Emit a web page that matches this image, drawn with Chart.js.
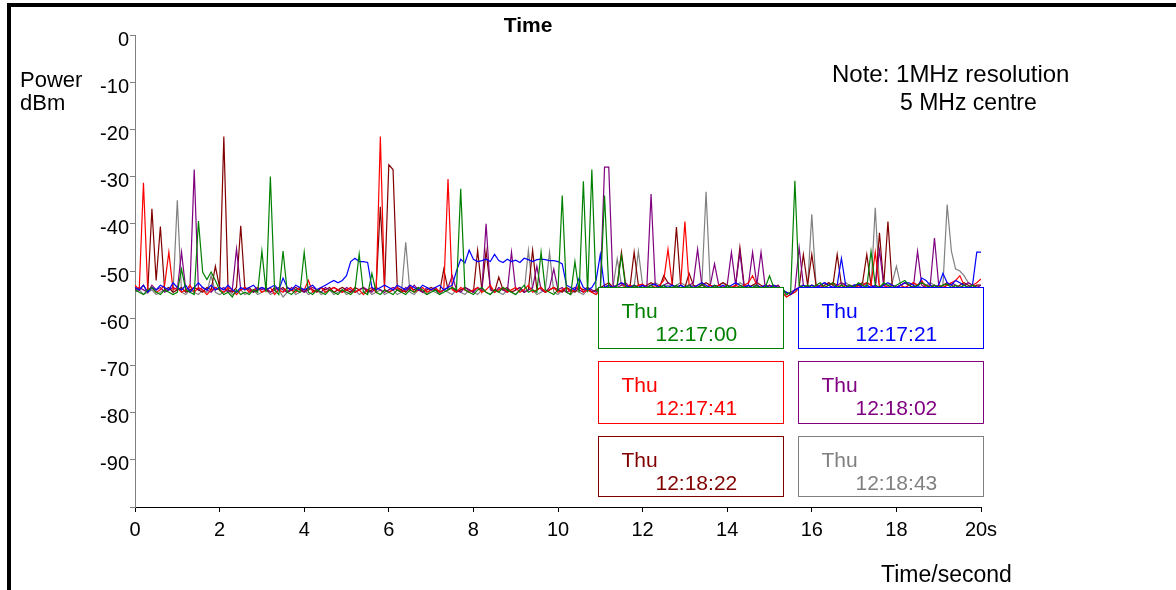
<!DOCTYPE html>
<html>
<head>
<meta charset="utf-8">
<script src="https://cdn.jsdelivr.net/npm/chart.js@4/dist/chart.umd.min.js"></script>
<style>
  body { margin: 0; background: #fff; }
  canvas { display: block; }
</style>
</head>
<body>
<canvas id="powerChart" width="1176" height="590"></canvas>
<script>
// samples every 0.1 s, 0 .. 20 s
const sampleStep = 0.1;

const seriesNames = ['12:17:00', '12:17:21', '12:17:41', '12:18:02', '12:18:22', '12:18:43'];
const seriesColors = ['#008000', '#0000ff', '#ff0000', '#800080', '#800000', '#808080'];

const powerGreen = [
  -54, -54.5, -55, -54, -53.5, -54.5, -55, -54, -54.5, -55,
  -54.5, -49.6, -54, -54.5, -55, -39.4, -50.3, -51.8, -50.2, -52,
  -54, -55, -54.5, -55.5, -54, -55, -54.5, -55, -54, -54.5,
  -45.8, -54.5, -30, -54, -55, -45.8, -54.5, -55, -54, -54.5,
  -46, -54.5, -55, -54, -54.5, -55, -54, -54.5, -55, -54,
  -54.5, -55, -54, -46.4, -54.5, -55, -50.5, -54.5, -55, -54,
  -54.5, -55, -54, -54.5, -55, -54, -54.5, -53.5, -54, -55,
  -54.5, -54, -55, -54.5, -54, -53.5, -54, -32.6, -54, -54.5,
  -55, -54, -53.5, -54.5, -55, -54, -54.5, -53.5, -54, -54.5,
  -55, -54, -53, -54.5, -54, -54.5, -46, -54, -54.5, -55,
  -54, -34, -54.5, -55, -48, -54.5, -31, -54.5, -28.5, -54,
  -54.5, -34, -53.5, -54, -53, -46.7, -53.5, -54, -53, -53.5,
  -54, -53.5, -53, -54, -53.5, -53, -54, -53.5, -53, -54,
  -53.5, -53, -54, -53.5, -52.8, -53.5, -54, -53, -53.5, -54,
  -53, -53.5, -54, -53, -53.5, -54, -53.5, -53, -54, -53.5,
  -51, -53.5, -54, -53.5, -55, -54.5, -30.9, -53, -53.5, -53,
  -53.5, -53, -52.5, -53.5, -53, -52.5, -53.5, -53, -53.5, -53,
  -53.5, -52.5, -53, -53.5, -45.8, -53, -53.5, -52.5, -53, -53.5,
  -53, -52.5, -52, -53, -53.5, -53, -52.5, -53, -53.5, -53,
  -53.5, -53, -52.8, -53.5, -53, -53.5, -53, -53.5, -53, -53.5,
  -53.5
];

const powerBlue = [
  -53.5, -54, -53, -54.5, -53.5, -54, -53, -53.5, -54, -52.5,
  -53.5, -54, -53, -54.5, -53.5, -52.5, -53.5, -54, -53, -54,
  -53.5, -54, -53, -54, -54.5, -53.5, -54, -53.5, -53, -54,
  -53.5, -54, -53.5, -53, -54, -51.5, -53.5, -54, -53, -53.5,
  -54, -53.5, -53, -54, -53.5, -53, -52.5, -52, -52.5, -52,
  -51, -48, -47.3, -48, -48, -48.2, -53.5, -54, -53.5, -53,
  -53.5, -54, -53, -53.5, -54, -53, -53.5, -54, -53, -53.5,
  -54, -53.5, -53, -54, -53.5, -53, -50, -47.5, -48.3, -45.6,
  -47.5, -48, -47.8, -47.5, -48, -46.5, -47.8, -48.2, -47.5, -48,
  -47.7, -48.2, -47.3, -47.6, -48, -47.6, -47.5, -47.6, -47.8, -47.8,
  -48, -48.5, -53, -53.5, -54, -51.5, -53.5, -54, -53.5, -52,
  -46.5, -53.5, -53, -53.5, -53, -52.5, -53, -53.5, -53, -53.5,
  -53, -53.5, -53, -52.8, -53.5, -53, -53.5, -53, -53.5, -53,
  -53.5, -53, -53.5, -53, -52.5, -53, -53.5, -53, -53.5, -53,
  -53.5, -53, -52.5, -53, -53.5, -53, -53.5, -53, -53.5, -53,
  -53.5, -53, -53.5, -54, -54.5, -55, -54, -53.5, -53, -53.5,
  -53, -53.5, -53, -52.5, -53, -53.5, -53, -47.3, -53, -53.5,
  -53, -52.8, -53.5, -53, -53.5, -53, -53.5, -53, -52.5, -53,
  -53.5, -53, -52.5, -52.5, -53, -53.5, -51.5, -52, -53, -53.5,
  -53, -50.5, -52.5, -53, -52, -52.5, -53, -53.5, -53, -46,
  -46
];

const powerRed = [
  -53, -54, -31.3, -54, -53.5, -54.5, -54, -53, -46, -54,
  -53.5, -54.5, -54, -53, -54.5, -53.5, -54, -55, -54, -53.5,
  -54, -54.5, -53.5, -54, -55, -54, -53.5, -54.5, -54, -53.5,
  -54.5, -54, -53.5, -55, -54, -54.5, -53.5, -54, -54.5, -53.5,
  -54, -52, -54.5, -54, -53.5, -54.5, -54, -53.5, -54, -54.5,
  -54, -53.5, -54.5, -54, -55, -54, -53.5, -54.5, -21.5, -54,
  -54.5, -54, -53.5, -54.5, -54, -53, -54.5, -54, -53.5, -54.5,
  -54, -53.5, -54.5, -54, -30.5, -54, -54.5, -53.5, -54, -54.5,
  -54, -53.5, -54.5, -54, -53, -54.5, -54, -53.5, -54.5, -54,
  -53.5, -54.5, -54, -53, -54.5, -54, -53.5, -54.5, -54, -53.5,
  -54.5, -54, -53.5, -54.5, -54, -53, -54.5, -54, -54.5, -55,
  -54, -53.5, -53, -53.5, -53, -52.5, -53.5, -53, -53.5, -53,
  -52.8, -53.5, -53, -53.5, -53, -52, -45.4, -53, -53.5, -53,
  -39.5, -53, -53.5, -53, -52.5, -53.5, -53, -53.5, -53, -53.5,
  -53, -53.5, -53, -53.5, -53, -52.5, -51, -53, -53.5, -53,
  -53.5, -53, -53.5, -54.5, -55.5, -55, -54.5, -53.5, -53, -53.5,
  -53, -53.5, -53, -53.5, -53, -52.5, -53, -53.5, -53, -53.5,
  -53, -53.5, -53, -52.5, -53, -46, -53.5, -53, -53.5, -53,
  -53.5, -53, -53.5, -53, -52.5, -53, -52, -53.5, -53, -53.5,
  -53, -53.5, -53, -52.5, -52, -51, -53, -53.5, -53, -52.5,
  -51.7
];

const powerPurple = [
  -54, -53.5, -54, -54.5, -53, -54, -53.5, -54.5, -54, -53.5,
  -54, -46, -54, -53.5, -28.5, -54, -53.5, -54, -54.5, -53.5,
  -54, -53.5, -54.5, -54, -45.3, -54, -53.5, -54, -54.5, -53.5,
  -54, -53.5, -54.5, -54, -53.5, -54, -54.5, -53.5, -54, -53.5,
  -54.5, -54, -53.5, -54, -54.5, -53.5, -54, -53.5, -54, -54.5,
  -53.5, -54, -54.5, -54, -53.5, -54, -54.5, -53.5, -54, -54.5,
  -54, -53.5, -54, -54.5, -53.5, -54, -53, -54, -54.5, -53.5,
  -54, -53.5, -54.5, -54, -53.5, -51, -54, -54.5, -53.5, -54,
  -54.5, -53.5, -54, -40, -54, -54.5, -53.5, -54, -54.5, -46,
  -54, -53.5, -54.5, -54, -53.5, -49, -54, -54.5, -53.5, -49.6,
  -54, -53.5, -54.5, -54, -53.5, -54, -54.5, -53.5, -54, -54.5,
  -53.5, -28, -28, -53, -53.5, -53, -52.5, -53.5, -53, -53.5,
  -53, -53.5, -33.7, -53, -53.5, -53, -52.5, -53, -53.5, -53,
  -53.5, -53, -52.5, -45.4, -53, -53.5, -53, -48.5, -53, -53.5,
  -53, -46, -53, -46, -53.5, -53, -46, -53, -46, -53.5,
  -53, -53.5, -53, -54, -55, -54.5, -54, -45, -53, -53.5,
  -53, -53.5, -53, -52.5, -53, -53.5, -53, -52.5, -53, -53.5,
  -53, -53.5, -53, -52.5, -53, -53.5, -45.6, -53, -53.5, -53,
  -53.5, -53, -52.5, -53, -53.5, -45.8, -53, -53.5, -53, -43,
  -53, -53.5, -53, -52.5, -53, -53.5, -53, -52.5, -53, -53.5,
  -53
];

const powerDarkRed = [
  -53.5, -54, -53, -54.5, -36.8, -52, -40.6, -54, -53.5, -54.5,
  -54, -53.5, -54.5, -54, -53.5, -54, -54.5, -53.5, -54, -49,
  -53.5, -21.5, -54, -54.5, -53.5, -40.4, -54, -53.5, -54.5, -54,
  -53.5, -54, -54.5, -53.5, -54, -53.5, -54.5, -54, -53.5, -54,
  -54.5, -53.5, -54, -54.5, -53.5, -54, -53.5, -54.5, -54, -53.5,
  -54, -54.5, -53.5, -54, -53.5, -54.5, -54, -53.5, -36.4, -53.5,
  -27.5, -28.5, -53.5, -54, -54.5, -53.5, -54, -53.5, -54.5, -54,
  -53.5, -54, -54.5, -49.6, -54, -53.5, -54.5, -54, -53.5, -54,
  -54.5, -45.6, -54, -45.8, -53.5, -54.5, -51.3, -54, -53.5, -54.5,
  -54, -53.5, -54.5, -54, -45.6, -54, -53.5, -54.5, -54, -53.5,
  -54, -54.5, -53.5, -54, -54.5, -53.5, -54, -53.5, -54.5, -54,
  -53.5, -53, -52.5, -53.5, -53, -46, -53, -53.5, -46, -53,
  -53.5, -53, -52.5, -53, -53.5, -51, -52.5, -53, -40.7, -53,
  -53.5, -50.5, -53, -53.5, -53, -52.5, -53, -53.5, -53, -52.5,
  -53, -53.5, -53, -45, -53, -53.5, -53, -52.5, -53, -53.5,
  -53, -53.5, -53, -54, -54.5, -55, -54, -53.5, -46.5, -53,
  -46.5, -53, -53.5, -53, -52.5, -53, -46.5, -53, -53.5, -53,
  -53.5, -53, -52.5, -46.5, -53, -53.5, -41.9, -53, -39.5, -53,
  -53.5, -53, -52.5, -53, -53.5, -53, -52.5, -53, -53.5, -53,
  -53.5, -53, -52.5, -53, -53.5, -53, -52.5, -53, -53.5, -53,
  -53
];

const powerGray = [
  -54.5, -54, -55, -54.5, -54, -55, -54.5, -54, -53.5, -54.5,
  -35, -54.5, -55, -54, -54.5, -55, -54, -54.5, -51, -54.5,
  -55, -54.5, -54, -55, -54.5, -54, -55, -54.5, -54, -55,
  -54.5, -54, -55, -54.5, -54, -55.5, -54.5, -54, -55, -54.5,
  -54, -55, -54.5, -54, -55, -54.5, -54, -55, -54.5, -54,
  -55, -54.5, -54, -55, -54.5, -54, -55, -54.5, -54, -55,
  -54.5, -54, -55, -54.5, -43.9, -54.5, -55, -54, -54.5, -55,
  -54, -54.5, -55, -54, -54.5, -55, -54, -54.5, -55, -54,
  -54.5, -55, -54, -54.5, -55, -54, -54.5, -55, -54, -54.5,
  -55, -54, -54.5, -45.6, -54, -55, -54.5, -54, -46, -54.5,
  -55, -54, -54.5, -55, -54, -54.5, -55, -54, -54.5, -55,
  -54, -53.5, -53, -53.5, -47.4, -53, -53.5, -53, -53.5, -45.8,
  -53, -53.5, -53, -52.5, -53, -53.5, -53, -53.5, -53, -52.5,
  -53, -53.5, -53, -53.5, -53, -33.2, -53, -53.5, -53, -52.5,
  -53, -53.5, -53, -52.5, -53, -53.5, -53, -53, -53.5, -53,
  -53.5, -53, -53.5, -54.5, -55.5, -55, -54.5, -53.5, -53, -53.5,
  -38, -53, -53.5, -53, -52.5, -53, -53.5, -53, -52.5, -53,
  -53.5, -53, -52.5, -53, -53.5, -36.6, -53, -53.5, -53, -52.5,
  -49, -53, -53.5, -53, -52.5, -53, -53.5, -53, -52.5, -53,
  -53.5, -53, -35.9, -45.8, -49.6, -50, -51, -52.5, -53, -53.5,
  -53
];

const seriesValues = [powerGreen, powerBlue, powerRed, powerPurple, powerDarkRed, powerGray];

const xTicks = [0, 2, 4, 6, 8, 10, 12, 14, 16, 18, 20];
const yTicks = [0, -10, -20, -30, -40, -50, -60, -70, -80, -90];

// legend boxes in data units (seconds / dBm)
const boxCols = [[10.95, 15.32], [15.67, 20.05]];
const boxRows = [[-53.4, -66.4], [-69.1, -82.1], [-84.9, -97.7]];

Chart.defaults.font.family = "'Liberation Sans', Arial, sans-serif";
Chart.defaults.color = '#000';

const datasets = seriesValues.map((vals, i) => ({
  label: seriesNames[i],
  data: vals.map((v, k) => ({ x: Math.round(k * sampleStep * 10) / 10, y: v })),
  borderColor: seriesColors[i],
  borderWidth: 1.2,
  pointRadius: 0,
  tension: 0,
  fill: false
}));

const decorations = {
  id: 'decorations',
  afterDatasetsDraw(chart) {
    const ctx = chart.ctx;
    const xs = chart.scales.x, ys = chart.scales.y;
    ctx.save();
    seriesNames.forEach((name, i) => {
      const col = boxCols[i % 2], row = boxRows[Math.floor(i / 2)];
      const l = Math.round(xs.getPixelForValue(col[0])) + 0.5;
      const r = Math.round(xs.getPixelForValue(col[1])) + 0.5;
      const t = Math.round(ys.getPixelForValue(row[0])) + 0.5;
      const b = Math.round(ys.getPixelForValue(row[1])) + 0.5;
      ctx.fillStyle = '#fff';
      ctx.fillRect(l, t, r - l, b - t);
      ctx.strokeStyle = seriesColors[i];
      ctx.lineWidth = 1;
      ctx.strokeRect(l, t, r - l, b - t);
      ctx.fillStyle = seriesColors[i];
      ctx.font = "21px 'Liberation Sans', Arial, sans-serif";
      ctx.textBaseline = 'alphabetic';
      ctx.textAlign = 'left';
      ctx.fillText('Thu', l + 23, t + 30);
      ctx.fillText(name, l + 57, t + 53);
    });
    ctx.restore();
  },
  afterDraw(chart) {
    const ctx = chart.ctx;
    ctx.save();
    ctx.fillStyle = '#000';
    ctx.fillRect(7, 3, 4, 587);
    ctx.fillRect(7, 3, 1169, 4);
    ctx.textAlign = 'center';
    ctx.textBaseline = 'alphabetic';
    ctx.font = "bold 21px 'Liberation Sans', Arial, sans-serif";
    ctx.fillText('Time', 528, 32);
    ctx.textAlign = 'left';
    ctx.font = "22px 'Liberation Sans', Arial, sans-serif";
    ctx.fillText('Power', 20, 87);
    ctx.fillText('dBm', 20, 110);
    ctx.font = "24px 'Liberation Sans', Arial, sans-serif";
    ctx.fillText('Note: 1MHz resolution', 832, 82);
    ctx.font = "23px 'Liberation Sans', Arial, sans-serif";
    ctx.fillText('5 MHz centre', 900, 110);
    ctx.fillText('Time/second', 881, 582);
    ctx.restore();
  }
};

new Chart(document.getElementById('powerChart'), {
  type: 'line',
  data: { datasets },
  plugins: [decorations],
  options: {
    responsive: false,
    animation: false,
    layout: { padding: { top: 35, right: 195, left: 0, bottom: 0 } },
    plugins: { legend: { display: false }, tooltip: { enabled: false } },
    scales: {
      x: {
        type: 'linear',
        min: 0,
        max: 20,
        afterFit(s) { s.height = 83; },
        afterBuildTicks(s) { s.ticks = xTicks.map(v => ({ value: v })); },
        ticks: {
          font: { size: 20 },
          padding: 6,
          maxRotation: 0,
          callback: v => (v === 20 ? '20s' : String(v))
        },
        grid: { drawOnChartArea: false, tickLength: 5, color: '#000' },
        border: { color: '#000', width: 1 }
      },
      y: {
        type: 'linear',
        min: -100,
        max: 0,
        afterFit(s) { s.width = 135; },
        afterBuildTicks(s) { s.ticks = yTicks.concat([-100]).map(v => ({ value: v })); },
        ticks: {
          font: { size: 20 },
          padding: 1,
          labelOffset: 5,
          callback: v => (yTicks.includes(v) ? String(v) : '')
        },
        grid: { drawOnChartArea: false, tickLength: 5, color: '#808080' },
        border: { color: '#808080', width: 1 }
      }
    }
  }
});
</script>
</body>
</html>
